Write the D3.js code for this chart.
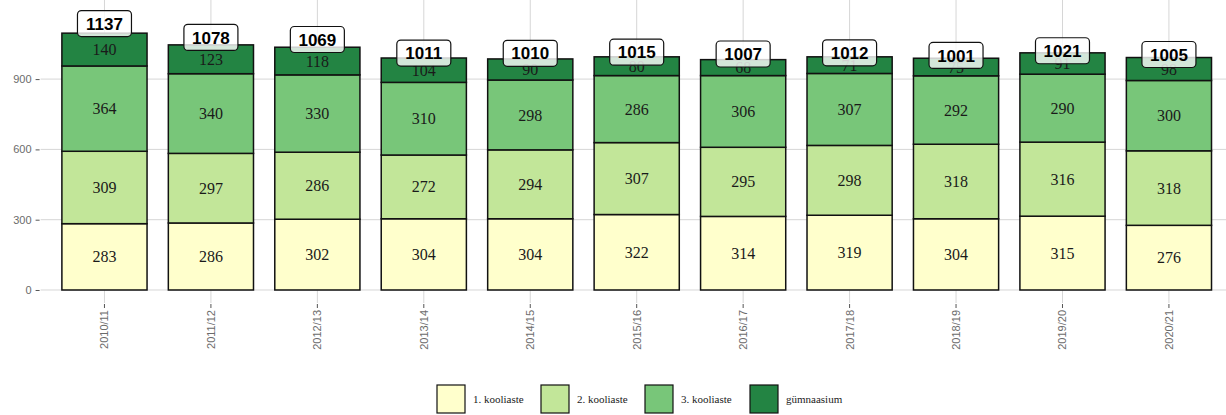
<!DOCTYPE html>
<html>
<head>
<meta charset="utf-8">
<script src="https://cdn.jsdelivr.net/npm/d3@7"></script>
<style>
  body { margin: 0; background: #fff; }
  svg { display: block; }
</style>
</head>
<body>
<div class="container"></div>
<script>
var svgWidth = 1226;
var svgHeight = 415;

// data
var years = ["2010/11", "2011/12", "2012/13", "2013/14", "2014/15", "2015/16",
  "2016/17", "2017/18", "2018/19", "2019/20", "2020/21"];
var kooliaste1 = [283, 286, 302, 304, 304, 322, 314, 319, 304, 315, 276];
var kooliaste2 = [309, 297, 286, 272, 294, 307, 295, 298, 318, 316, 318];
var kooliaste3 = [364, 340, 330, 310, 298, 286, 306, 307, 292, 290, 300];
var gymnaasium = [140, 123, 118, 104, 90, 80, 68, 71, 75, 91, 98];
var totals = [1137, 1078, 1069, 1011, 1010, 1015, 1007, 1012, 1001, 1021, 1005];
var seriesNames = ["1. kooliaste", "2. kooliaste", "3. kooliaste", "gümnaasium"];
var seriesColors = ["#ffffcc", "#c2e699", "#78c679", "#238443"];
var yTicks = [0, 300, 600, 900];

var panel = { left: 40.6, right: 1232.8, top: 0, bottom: 303 };

var svg = d3.select(".container")
  .append("svg")
  .attr("width", svgWidth)
  .attr("height", svgHeight);

// build table for the stack
var table = years.map(function(y, i) {
  return {
    year: y,
    "1. kooliaste": kooliaste1[i],
    "2. kooliaste": kooliaste2[i],
    "3. kooliaste": kooliaste3[i],
    "gümnaasium": gymnaasium[i],
    total: totals[i]
  };
});
var stacked = d3.stack().keys(seriesNames)(table);

var xScale = d3.scaleBand()
  .domain(years)
  .range([panel.left, panel.right])
  .paddingInner(0.2)
  .paddingOuter(0.2);

var yScale = d3.scaleLinear()
  .domain([-55.5, 1237.5])
  .range([panel.bottom, panel.top]);

var color = d3.scaleOrdinal().domain(seriesNames).range(seriesColors);

// grid lines
var grid = svg.append("g").attr("stroke", "#d6d6d6").attr("stroke-width", 1);
grid.selectAll("line.h")
  .data(yTicks)
  .enter()
  .append("line")
  .attr("x1", panel.left)
  .attr("x2", svgWidth)
  .attr("y1", d => yScale(d))
  .attr("y2", d => yScale(d));
grid.selectAll("line.v")
  .data(years)
  .enter()
  .append("line")
  .attr("x1", d => xScale(d) + xScale.bandwidth() / 2)
  .attr("x2", d => xScale(d) + xScale.bandwidth() / 2)
  .attr("y1", panel.top)
  .attr("y2", panel.bottom);

// y axis
var leftAxis = d3.axisLeft(yScale).tickValues(yTicks).tickSize(4).tickPadding(4);
var yAxis = svg.append("g")
  .attr("transform", `translate(${panel.left - 1}, 0)`)
  .call(leftAxis);
yAxis.select(".domain").remove();
yAxis.selectAll("line").attr("stroke", "#555");
yAxis.selectAll("text")
  .attr("fill", "#6b6b6b")
  .style("font-family", "Liberation Sans, Arial, sans-serif")
  .style("font-size", "11px");

// x axis
var bottomAxis = d3.axisBottom(xScale).tickSize(4).tickPadding(4);
var xAxis = svg.append("g")
  .attr("transform", `translate(0, ${panel.bottom + 1})`)
  .call(bottomAxis);
xAxis.select(".domain").remove();
xAxis.selectAll("line").attr("stroke", "#555");
xAxis.selectAll("text")
  .attr("fill", "#6b6b6b")
  .style("font-family", "Liberation Sans, Arial, sans-serif")
  .style("font-size", "11px")
  .attr("text-anchor", "end")
  .attr("dy", "0")
  .attr("transform", "translate(4, 6) rotate(-90)")
  .attr("x", 0)
  .attr("y", 0);

// bars
var layers = svg.append("g")
  .selectAll("g")
  .data(stacked)
  .enter()
  .append("g")
  .attr("fill", d => color(d.key));

layers.selectAll("rect")
  .data(d => d)
  .enter()
  .append("rect")
  .attr("x", d => xScale(d.data.year))
  .attr("y", d => yScale(d[1]))
  .attr("width", xScale.bandwidth())
  .attr("height", d => yScale(d[0]) - yScale(d[1]))
  .attr("stroke", "#111")
  .attr("stroke-width", 1.5);

// segment labels
layers.selectAll("text")
  .data(d => d)
  .enter()
  .append("text")
  .attr("x", d => xScale(d.data.year) + xScale.bandwidth() / 2)
  .attr("y", d => yScale((d[0] + d[1]) / 2))
  .attr("dy", "0.35em")
  .attr("text-anchor", "middle")
  .attr("fill", "#1a1a1a")
  .style("font-family", "Liberation Serif, Times New Roman, serif")
  .style("font-size", "16px")
  .text(d => d[1] - d[0]);

// total labels in rounded boxes
var totalGroup = svg.append("g")
  .selectAll("g")
  .data(table)
  .enter()
  .append("g")
  .attr("transform", d => `translate(${xScale(d.year) + xScale.bandwidth() / 2}, ${yScale(d.total)})`);

totalGroup.append("rect")
  .attr("x", -27)
  .attr("y", -13)
  .attr("width", 54)
  .attr("height", 26)
  .attr("rx", 4)
  .attr("ry", 4)
  .attr("fill", "#fff")
  .attr("fill-opacity", 0.8)
  .attr("stroke", "#111")
  .attr("stroke-width", 1.2);

totalGroup.append("text")
  .attr("text-anchor", "middle")
  .attr("dy", "0.36em")
  .attr("fill", "#000")
  .style("font-family", "Liberation Sans, Arial, sans-serif")
  .style("font-weight", "bold")
  .style("font-size", "17px")
  .text(d => d.total);

// legend
var legendX = [437, 541, 645, 750];
var legend = svg.append("g")
  .selectAll("g")
  .data(seriesNames)
  .enter()
  .append("g")
  .attr("transform", (d, i) => `translate(${legendX[i]}, 385)`);

legend.append("rect")
  .attr("width", 28)
  .attr("height", 28)
  .attr("fill", d => color(d))
  .attr("stroke", "#111")
  .attr("stroke-width", 1.2);

legend.append("text")
  .attr("x", 36)
  .attr("y", 14)
  .attr("dy", "0.35em")
  .attr("fill", "#1a1a1a")
  .style("font-family", "Liberation Serif, Times New Roman, serif")
  .style("font-size", "11px")
  .text(d => d);
</script>
</body>
</html>
